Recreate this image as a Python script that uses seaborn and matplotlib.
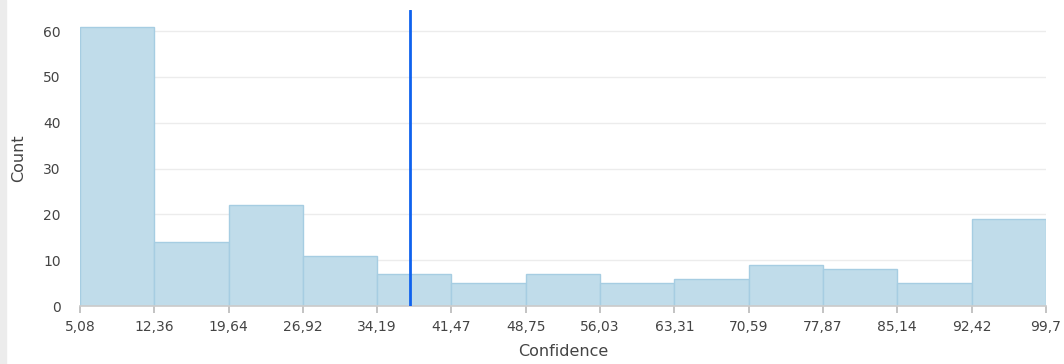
import numpy as np
import matplotlib
matplotlib.use('Agg')
import matplotlib.pyplot as plt
import seaborn as sns

# bin edges and counts
bin_edges = [5.08, 12.36, 19.64, 26.92, 34.19, 41.47, 48.75, 56.03,
             63.31, 70.59, 77.87, 85.14, 92.42, 99.7]
counts = [61, 14, 22, 11, 7, 5, 7, 5, 6, 9, 8, 5, 19]
edge_labels = ["5,08", "12,36", "19,64", "26,92", "34,19", "41,47", "48,75",
               "56,03", "63,31", "70,59", "77,87", "85,14", "92,42", "99,7"]
threshold = 37.4

centers = [(a + b) / 2 for a, b in zip(bin_edges[:-1], bin_edges[1:])]

sns.set_theme(style="white")
plt.rcParams['font.family'] = ['DejaVu Sans']

fig = plt.figure(figsize=(10.64, 3.64), dpi=100)
ax = fig.add_axes([0.0752, 0.159, 0.9078, 0.8135])

# light grey strip on the left edge
fig.patches.append(plt.Rectangle((0, 0), 0.006, 1, transform=fig.transFigure,
                                 color="#ececec", zorder=0))

sns.histplot(x=centers, weights=counts, bins=bin_edges, ax=ax,
             color="#c0dcea", edgecolor="#a6cde2", linewidth=1, alpha=1)

ax.axvline(threshold, color="#0f62ee", linewidth=2, zorder=5)

ax.set_xlim(bin_edges[0], bin_edges[-1])
ax.set_ylim(0, 64.6)
ax.set_yticks([0, 10, 20, 30, 40, 50, 60])
ax.set_xticks(bin_edges)
ax.set_xticklabels(edge_labels)
ax.grid(axis="y", color="#ececec", linewidth=1)
ax.set_axisbelow(True)

for s in ["top", "right", "left"]:
    ax.spines[s].set_visible(False)
ax.spines["bottom"].set_color("#cccccc")
ax.tick_params(axis="x", length=5, color="#bbbbbb", labelsize=10,
               labelcolor="#444444", pad=5, bottom=True)
ax.tick_params(axis="y", length=0, labelsize=10, labelcolor="#444444", pad=14)

ax.set_xlabel("Confidence", fontsize=11.5, color="#444444", labelpad=7)
ax.set_ylabel("Count", fontsize=11.5, color="#444444", labelpad=12)

fig.savefig("out.png", dpi=100)
